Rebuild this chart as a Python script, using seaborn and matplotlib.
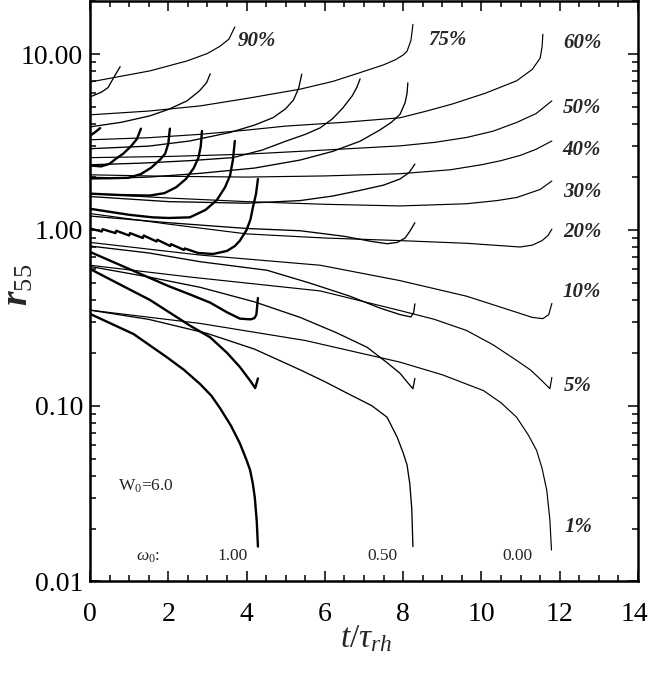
import matplotlib
matplotlib.use("Agg")
import matplotlib.pyplot as plt
import matplotlib.transforms as mtrans
import seaborn as sns
import pandas as pd
from matplotlib.ticker import FixedLocator, MultipleLocator, NullFormatter, LogLocator

# ---------------- data: (t / tau_rh, r) ----------------
# model omega0 = 0.00 (thin lines, runs to t ~ 11.8)
w000_f01 = [(0, 0.35), (2.81, 0.294), (5.5, 0.235), (7.92, 0.177), (9.0, 0.15), (10.05, 0.122),
            (10.5, 0.104), (10.9, 0.086), (11.2, 0.068), (11.41, 0.0557), (11.55, 0.044),
            (11.67, 0.033), (11.75, 0.0223), (11.79, 0.0151)]
w000_f05 = [(0, 0.63), (2.55, 0.54), (5.88, 0.45), (7.92, 0.348), (8.8, 0.31), (9.62, 0.268),
            (10.3, 0.222), (10.9, 0.181), (11.25, 0.16), (11.5, 0.142), (11.75, 0.125), (11.8, 0.145)]
w000_f10 = [(0, 0.85), (2.81, 0.72), (5.88, 0.63), (7.92, 0.515), (9.62, 0.42), (10.9, 0.34),
            (11.3, 0.318), (11.57, 0.313), (11.72, 0.33), (11.8, 0.382)]
w000_f20 = [(0, 1.24), (2.0, 1.08), (4.0, 0.95), (6.0, 0.9), (7.92, 0.87), (9.62, 0.84),
            (10.99, 0.80), (11.3, 0.82), (11.55, 0.87), (11.7, 0.93), (11.8, 1.01)]
w000_f30 = [(0, 1.61), (2.0, 1.52), (4.0, 1.45), (6.0, 1.4), (7.92, 1.37), (9.62, 1.41),
            (10.4, 1.47), (10.9, 1.53), (11.5, 1.7), (11.8, 1.9)]
w000_f40 = [(0, 2.06), (2.0, 2.02), (4.0, 2.0), (6.0, 2.03), (7.92, 2.09), (9.2, 2.2),
            (10.0, 2.35), (10.5, 2.48), (11.0, 2.66), (11.4, 2.88), (11.8, 3.21)]
w000_f50 = [(0, 2.58), (2.0, 2.62), (4.0, 2.7), (6.0, 2.85), (7.92, 3.01), (8.8, 3.15),
            (9.62, 3.36), (10.3, 3.65), (10.9, 4.09), (11.4, 4.6), (11.8, 5.43)]
w000_f60 = [(0, 3.26), (1.5, 3.35), (2.81, 3.5), (4.0, 3.7), (5.0, 3.9), (6.5, 4.1), (7.92, 4.35),
            (8.6, 4.75), (9.27, 5.22), (10.1, 6.0), (10.9, 7.06), (11.3, 8.2), (11.5, 9.5),
            (11.55, 11.0), (11.57, 13.0)]
w000_f75 = [(0, 4.52), (1.5, 4.75), (2.81, 5.08), (4.0, 5.6), (4.68, 5.95), (5.37, 6.33), (6.2, 7.0),
            (6.9, 7.86), (7.5, 8.7), (7.8, 9.3), (8.0, 9.9), (8.1, 10.4), (8.2, 12.0), (8.25, 14.8)]
w000_f90 = [(0, 6.95), (1.53, 8.04), (2.48, 9.16), (3.0, 10.1), (3.32, 11.1), (3.55, 12.2), (3.7, 14.3)]

# model omega0 = 0.50 (runs to t ~ 8.3)
w050_f01 = [(0, 0.35), (1.5, 0.31), (2.99, 0.258), (4.2, 0.21), (5.37, 0.16), (6.0, 0.137),
            (6.5, 0.12), (7.2, 0.1), (7.59, 0.086), (7.85, 0.066), (8.0, 0.054), (8.1, 0.046),
            (8.17, 0.036), (8.22, 0.026), (8.25, 0.0158)]
w050_f05 = [(0, 0.62), (1.5, 0.54), (2.81, 0.472), (4.2, 0.39), (5.37, 0.318), (6.3, 0.26),
            (7.08, 0.215), (7.6, 0.175), (7.92, 0.153), (8.12, 0.135), (8.25, 0.125), (8.3, 0.143)]
w050_f10 = [(0, 0.81), (1.5, 0.74), (2.81, 0.66), (4.52, 0.59), (5.6, 0.5), (6.64, 0.42),
            (7.4, 0.36), (7.92, 0.33), (8.2, 0.32), (8.27, 0.34), (8.3, 0.38)]
w050_f20 = [(0, 1.2), (2.0, 1.1), (4.0, 1.02), (5.37, 0.99), (6.5, 0.92), (7.2, 0.86), (7.59, 0.835),
            (7.85, 0.85), (8.05, 0.9), (8.18, 0.99), (8.3, 1.1)]
w050_f30 = [(0, 1.55), (2.0, 1.45), (4.0, 1.42), (5.37, 1.47), (6.2, 1.56), (6.9, 1.68), (7.5, 1.8),
            (7.92, 1.95), (8.15, 2.12), (8.3, 2.37)]
w050_f40 = [(0, 1.95), (1.5, 2.0), (2.81, 2.1), (4.2, 2.25), (5.37, 2.5), (6.2, 2.8), (6.9, 3.2),
            (7.4, 3.7), (7.7, 4.1), (7.92, 4.55), (8.05, 5.3), (8.1, 6.0), (8.12, 6.87)]
w050_f50 = [(0, 2.35), (1.3, 2.4), (2.55, 2.48), (3.65, 2.58), (4.4, 2.85), (5.0, 3.2), (5.5, 3.5),
            (5.88, 3.81), (6.2, 4.3), (6.46, 4.95), (6.7, 5.8), (6.82, 6.5), (6.9, 7.24)]
w050_f60 = [(0, 2.90), (1.5, 3.0), (2.55, 3.21), (3.58, 3.59), (4.2, 3.95), (4.68, 4.36), (5.0, 4.9),
            (5.2, 5.5), (5.33, 6.4), (5.41, 7.7)]
w050_f75 = [(0, 3.86), (0.8, 4.1), (1.53, 4.46), (2.0, 4.85), (2.48, 5.43), (2.8, 6.2), (2.98, 6.9),
            (3.07, 7.73)]
w050_f90 = [(0, 5.71), (0.3, 6.1), (0.46, 6.46), (0.63, 7.53), (0.77, 8.5)]

# model omega0 = 1.00 (thick lines, runs to t ~ 4.3)
w100_f01 = [(0, 0.333), (1.11, 0.256), (1.96, 0.189), (2.4, 0.16), (2.81, 0.133), (3.1, 0.114),
            (3.32, 0.097), (3.6, 0.077), (3.83, 0.061), (4.0, 0.049), (4.09, 0.043), (4.16, 0.036),
            (4.21, 0.030), (4.26, 0.022), (4.29, 0.0158)]
w100_f05 = [(0, 0.60), (1.0, 0.46), (1.53, 0.40), (2.55, 0.286), (3.07, 0.245), (3.5, 0.2),
            (3.83, 0.166), (4.1, 0.138), (4.22, 0.126), (4.29, 0.143)]
w100_f10 = [(0, 0.75), (1.0, 0.6), (2.0, 0.48), (2.55, 0.43), (3.07, 0.386), (3.5, 0.34),
            (3.83, 0.313), (4.1, 0.31), (4.2, 0.315), (4.25, 0.33), (4.29, 0.41)]
w100_f20 = [(0, 1.02), (0.3, 0.98), (0.32, 1.01), (0.65, 0.96), (0.67, 0.99), (1.0, 0.93),
            (1.02, 0.96), (1.35, 0.9), (1.37, 0.93), (1.7, 0.86), (1.72, 0.88), (2.05, 0.81),
            (2.07, 0.83), (2.4, 0.77), (2.42, 0.785), (2.76, 0.74), (3.14, 0.73),
            (3.5, 0.76), (3.7, 0.81), (3.83, 0.87), (4.0, 1.0), (4.1, 1.15), (4.16, 1.34),
            (4.24, 1.6), (4.29, 1.95)]
w100_f30 = [(0, 1.32), (1.0, 1.22), (1.6, 1.18), (2.0, 1.17), (2.55, 1.18), (2.95, 1.3), (3.24, 1.48),
            (3.45, 1.75), (3.58, 2.05), (3.65, 2.5), (3.70, 3.21)]
w100_f40 = [(0, 1.61), (0.8, 1.58), (1.53, 1.57), (1.9, 1.62), (2.2, 1.75), (2.45, 1.95), (2.65, 2.25),
            (2.77, 2.58), (2.83, 3.0), (2.86, 3.66)]
w100_f50 = [(0, 1.98), (0.5, 1.97), (0.97, 1.98), (1.3, 2.08), (1.56, 2.26), (1.78, 2.5), (1.92, 2.72),
            (2.0, 3.1), (2.04, 3.77)]
w100_f60 = [(0, 2.33), (0.28, 2.30), (0.5, 2.38), (0.66, 2.54), (0.85, 2.72), (1.05, 3.0), (1.2, 3.3),
            (1.30, 3.77)]
w100_f75 = [(0, 3.44), (0.13, 3.6), (0.26, 3.8)]

models = ["0.00", "0.50", "1.00"]
fractions = ["1%", "5%", "10%", "20%", "30%", "40%", "50%", "60%", "75%", "90%"]
curves = {
    "0.00": [w000_f01, w000_f05, w000_f10, w000_f20, w000_f30, w000_f40, w000_f50, w000_f60, w000_f75, w000_f90],
    "0.50": [w050_f01, w050_f05, w050_f10, w050_f20, w050_f30, w050_f40, w050_f50, w050_f60, w050_f75, w050_f90],
    "1.00": [w100_f01, w100_f05, w100_f10, w100_f20, w100_f30, w100_f40, w100_f50, w100_f60, w100_f75],
}

# labels
frac_labels = ["90%", "75%", "60%", "50%", "40%", "30%", "20%", "10%", "5%", "1%"]
frac_label_t = [4.26, 9.12, 12.57, 12.57, 12.57, 12.57, 12.57, 12.57, 12.47, 12.47]
frac_label_r = [11.15, 11.25, 10.9, 4.66, 2.68, 1.55, 0.908, 0.414, 0.122, 0.0191]
model_label_t = [3.65, 7.46, 10.93]
model_label_text = ["1.00", "0.50", "0.00"]

xticks = [0, 2, 4, 6, 8, 10, 12, 14]
yticks = [0.01, 0.1, 1.0, 10.0]
ytick_labels = ["0.01", "0.10", "1.00", "10.00"]

# ---------------- build long table ----------------
rows = []
for m in models:
    for f, pts in zip(fractions, curves[m]):
        for i, (t, r) in enumerate(pts):
            rows.append({"t": t, "r": r, "model": m, "curve": m + "_" + f, "order": i})
df = pd.DataFrame(rows)

# ---------------- figure ----------------
sns.set_theme(style="ticks")
plt.rcParams["font.family"] = ["Liberation Serif", "DejaVu Serif"]
plt.rcParams["mathtext.fontset"] = "custom"
plt.rcParams["mathtext.rm"] = "Liberation Serif"
plt.rcParams["mathtext.it"] = "Liberation Serif:italic"
plt.rcParams["mathtext.bf"] = "Liberation Serif:bold"
plt.rcParams["mathtext.bfit"] = "Liberation Serif:italic:bold"

fig = plt.figure(figsize=(6.5, 6.73), dpi=100)
ax = fig.add_axes([0.1385, 0.136, 0.843, 0.8626])

sns.lineplot(data=df, x="t", y="r", units="curve", estimator=None, sort=False,
             hue="model", palette={m: "black" for m in models},
             size="model", sizes={"0.00": 0.85, "0.50": 0.95, "1.00": 1.7},
             legend=False, ax=ax)

ax.set_yscale("log")
ax.set_xlim(0, 14)
ax.set_ylim(0.01, 20.1)

ax.xaxis.set_major_locator(FixedLocator(xticks))
ax.xaxis.set_minor_locator(MultipleLocator(0.5))
ax.set_xticklabels([str(v) for v in xticks])
ax.yaxis.set_major_locator(FixedLocator(yticks))
ax.yaxis.set_minor_locator(LogLocator(base=10, subs=range(2, 10)))
ax.yaxis.set_minor_formatter(NullFormatter())
ax.set_yticklabels(ytick_labels)

ax.tick_params(which="both", direction="in", top=True, right=True, width=1.1, colors="black")
ax.tick_params(which="major", length=7.5)
ax.tick_params(which="minor", length=4.3)
ax.tick_params(axis="x", which="major", labelsize=20, pad=15)
ax.tick_params(axis="y", which="major", labelsize=20, pad=5)
for s in ax.spines.values():
    s.set_linewidth(1.8)
    s.set_color("black")

# nudge the last x tick label so it stays inside the canvas
last = ax.xaxis.get_major_ticks()[-1].label1
last.set_transform(last.get_transform() + mtrans.ScaledTranslation(-0.04, 0, fig.dpi_scale_trans))

ax.set_xlabel(r"$t/\tau_{rh}$", fontsize=24)
ax.xaxis.set_label_coords(0.504, -0.072)
ax.set_ylabel(r"$\mathbfit{r}_{55}$", fontsize=27)
ax.yaxis.set_label_coords(-0.10, 0.51)

for txt, t, r in zip(frac_labels, frac_label_t, frac_label_r):
    ax.text(t, r, txt, fontsize=15, fontstyle="italic", fontweight="bold",
            ha="center", va="baseline")

ax.text(1.43, 0.033, r"W$_0$=6.0", fontsize=12.5, ha="center", va="baseline")
ax.text(1.48, 0.0132, r"$\omega_0$:", fontsize=12.5, ha="center", va="baseline")
for txt, t in zip(model_label_text, model_label_t):
    ax.text(t, 0.0132, txt, fontsize=12.5, ha="center", va="baseline")

fig.savefig("out.png", dpi=100)
